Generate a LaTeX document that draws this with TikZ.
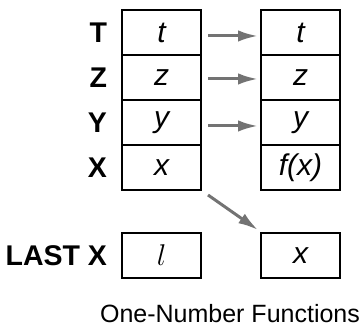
\documentclass[tikz,border=0pt]{standalone}
\usepackage{fontspec}
\setmainfont{Liberation Sans}
\usetikzlibrary{positioning,arrows.meta}

\begin{document}
\begin{tikzpicture}[node distance=0pt,thick,>={Latex[length=8pt,width=4.6pt]},
    cell/.style={draw,line width=1.1pt,outer sep=0pt,inner sep=0pt,
      minimum width=31.6pt,minimum height=18pt,font=\fontsize{12}{14}\selectfont\itshape},
    reg/.style={inner sep=0pt,font=\fontsize{11.4}{13}\selectfont\bfseries},
    copyarrow/.style={->,black!55,line width=1.2pt}]
  \useasboundingbox (0,0) rectangle (144.4pt,-130pt);
  % stack before
  \node[cell] (t1) at (64.6pt,-13pt) {t};
  \node[cell,below=of t1] (z1) {z};
  \node[cell,below=of z1] (y1) {y};
  \node[cell,below=of y1] (x1) {x};
  \node[cell,below=17.2pt of x1] (l1) {$l$};
  % stack after
  \node[cell,right=24pt of t1] (t2) {t};
  \node[cell,below=of t2] (z2) {z};
  \node[cell,below=of z2] (y2) {y};
  \node[cell,below=of y2] (x2) {f(x)};
  \node[cell,below=17.2pt of x2] (l2) {x};
  % register names
  \node[reg,left=5.6pt of t1] (T) {T};
  \node[reg,left=5.6pt of z1] (Z) {Z};
  \node[reg,left=5.6pt of y1] (Y) {Y};
  \node[reg,left=5.6pt of x1] (X) {X};
  \node[reg,left=5.6pt of l1] (LX) {LAST X};
  \draw[copyarrow] ([shift={(2.8pt,-1.4pt)}]t1.east) -- ([shift={(-1.2pt,-1.4pt)}]t2.west);
  \draw[copyarrow] ([shift={(2.8pt,-0.6pt)}]z1.east) -- ([shift={(-1.2pt,-0.6pt)}]z2.west);
  \draw[copyarrow] ([shift={(2.8pt,-1.4pt)}]y1.east) -- ([shift={(-1.2pt,-1.4pt)}]y2.west);
  \draw[copyarrow] ([shift={(2.8pt,-2pt)}]x1.south east) -- ([shift={(-1.2pt,1.2pt)}]l2.north west);
  \node[anchor=base] (cap) at (92pt,-129.2pt) {One-Number Functions};
\end{tikzpicture}
\end{document}
